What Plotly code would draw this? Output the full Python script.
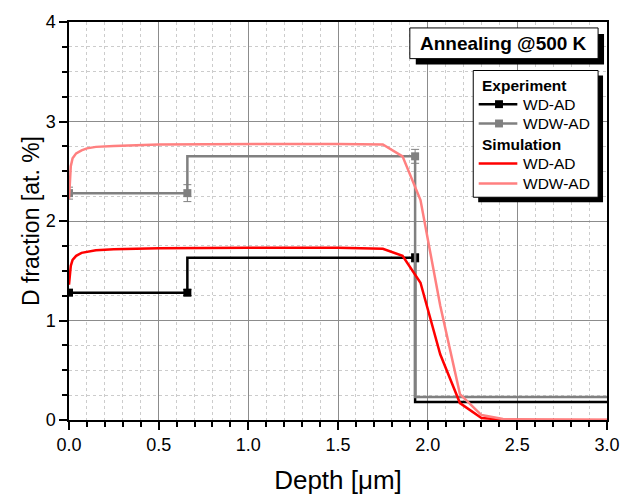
import plotly.graph_objects as go

# ---------------- data ----------------
exp_x = [0.0, 0.66, 1.93, 3.2]
exp_wd = [1.28, 1.28, 1.63, 0.18]
exp_wd_err = [0.03, 0.03, 0.04, 0.0]
exp_wdw = [2.28, 2.28, 2.65, 0.23]
exp_wdw_err = [0.06, 0.085, 0.07, 0.0]

sim_x = [0.0, 0.005, 0.01, 0.02, 0.04, 0.07, 0.1, 0.15, 0.25, 0.5, 1.0, 1.5,
         1.75, 1.86, 1.96, 2.07, 2.18, 2.30, 2.42, 2.6, 3.0]
sim_wd = [1.36, 1.48, 1.55, 1.61, 1.65, 1.68, 1.69, 1.705, 1.715, 1.725, 1.73, 1.73,
          1.72, 1.65, 1.38, 0.66, 0.17, 0.02, 0.003, 0.0, 0.0]
sim_wdw = [2.22, 2.45, 2.55, 2.63, 2.68, 2.71, 2.73, 2.745, 2.755, 2.77, 2.775, 2.775,
           2.77, 2.65, 2.21, 1.15, 0.26, 0.05, 0.01, 0.0, 0.0]

x_ticks = [0.0, 0.5, 1.0, 1.5, 2.0, 2.5, 3.0]
x_ticklabels = ["0.0", "0.5", "1.0", "1.5", "2.0", "2.5", "3.0"]
y_ticks = [0, 1, 2, 3, 4]

legend_groups = ["Experiment", "Simulation"]
legend_names = ["WD-AD", "WDW-AD"]

BLACK, GRAY, RED, PINK = "#000000", "#808080", "#ff0000", "#ff8080"

W, H = 632, 502
L, R, T, B = 69, 20, 18, 82
pw, ph = W - L - R, H - T - B


def xp(px):
    return (px - L) / pw


def yp(py):
    return (H - B - py) / ph


FONT = "Liberation Sans, Arial, sans-serif"

fig = go.Figure()

fig.add_trace(go.Scatter(
    x=exp_x, y=exp_wd, mode="lines+markers", name="Experiment WD-AD",
    line=dict(color=BLACK, width=2.5, shape="vh"),
    marker=dict(symbol="square", size=8, color=BLACK),
    error_y=dict(type="data", array=exp_wd_err, color=BLACK, thickness=1, width=4),
))
fig.add_trace(go.Scatter(
    x=exp_x, y=exp_wdw, mode="lines+markers", name="Experiment WDW-AD",
    line=dict(color=GRAY, width=2.5, shape="vh"),
    marker=dict(symbol="square", size=8, color=GRAY),
    error_y=dict(type="data", array=exp_wdw_err, color=GRAY, thickness=1, width=4),
))
fig.add_trace(go.Scatter(
    x=sim_x, y=sim_wd, mode="lines", name="Simulation WD-AD",
    line=dict(color=RED, width=2.5),
))
fig.add_trace(go.Scatter(
    x=sim_x, y=sim_wdw, mode="lines", name="Simulation WDW-AD",
    line=dict(color=PINK, width=2.5),
))


def prect(x0, y0, x1, y1, fill, lw=0, lc="black"):
    return dict(type="rect", xref="paper", yref="paper",
                x0=xp(x0), x1=xp(x1), y0=yp(y1), y1=yp(y0),
                fillcolor=fill, line=dict(width=lw, color=lc), layer="above")


def pline(x0, x1, y, color, w=2.5):
    return dict(type="line", xref="paper", yref="paper",
                x0=xp(x0), x1=xp(x1), y0=yp(y), y1=yp(y),
                line=dict(color=color, width=w), layer="above")


shapes = []
annotations = []

# title box with shadow
shapes.append(prect(419, 30, 609, 61, "black"))
shapes.append(prect(413, 24, 603, 55, "white", 1, "black"))
annotations.append(dict(
    text="<b>Annealing @500 K</b>", xref="paper", yref="paper",
    x=xp(508), y=yp(40), xanchor="center", yanchor="middle",
    showarrow=False, font=dict(family=FONT, size=19, color="black"),
))

# legend box with shadow
shapes.append(prect(482, 72, 608, 200, "black"))
shapes.append(prect(477, 67, 603, 195, "white", 1, "black"))

legend_rows = [
    ("head", legend_groups[0], 82),
    ("exp", (legend_names[0], BLACK), 101),
    ("exp", (legend_names[1], GRAY), 120.5),
    ("head", legend_groups[1], 141.5),
    ("sim", (legend_names[0], RED), 161),
    ("sim", (legend_names[1], PINK), 181),
]
for kind, content, ycen in legend_rows:
    if kind == "head":
        annotations.append(dict(
            text="<b>%s</b>" % content, xref="paper", yref="paper",
            x=xp(484), y=yp(ycen), xanchor="left", yanchor="middle",
            showarrow=False, font=dict(family=FONT, size=15.5, color="black"),
        ))
    else:
        name, color = content
        shapes.append(pline(482.5, 521.5, ycen, color, 2.5))
        if kind == "exp":
            shapes.append(prect(499, ycen - 4, 507, ycen + 4, color))
        annotations.append(dict(
            text=name, xref="paper", yref="paper",
            x=xp(525), y=yp(ycen), xanchor="left", yanchor="middle",
            showarrow=False, font=dict(family=FONT, size=15.5, color="black"),
        ))

fig.update_layout(
    width=W, height=H,
    margin=dict(l=L, r=R, t=T, b=B),
    paper_bgcolor="white", plot_bgcolor="white",
    font=dict(family=FONT, size=18, color="black"),
    showlegend=False,
    shapes=shapes,
    annotations=annotations,
    xaxis=dict(
        range=[0, 3.0], tickvals=x_ticks, ticktext=x_ticklabels,
        showline=True, linecolor="black", linewidth=1.5, mirror=True,
        ticks="outside", ticklen=8, tickwidth=1.5, tickcolor="black",
        showgrid=True, gridcolor="#8c8c8c", gridwidth=1,
        zeroline=False,
        minor=dict(dtick=0.1, showgrid=True, gridcolor="#cccccc", griddash="dot",
                   gridwidth=1, ticks="outside", ticklen=5, tickcolor="black", tickwidth=1.5),
        title=dict(text="Depth [μm]", font=dict(family=FONT, size=26), standoff=16),
        tickfont=dict(family=FONT, size=18),
    ),
    yaxis=dict(
        range=[0, 4], tickvals=y_ticks,
        showline=True, linecolor="black", linewidth=1.5, mirror=True,
        ticks="outside", ticklen=8, tickwidth=1.5, tickcolor="black",
        showgrid=True, gridcolor="#8c8c8c", gridwidth=1,
        zeroline=False,
        minor=dict(dtick=0.25, showgrid=True, gridcolor="#cccccc", griddash="dot",
                   gridwidth=1, ticks="outside", ticklen=5, tickcolor="black", tickwidth=1.5),
        title=dict(text="D fraction [at. %]", font=dict(family=FONT, size=23), standoff=0),
        tickfont=dict(family=FONT, size=18),
    ),
)

fig.write_html("out.html")
